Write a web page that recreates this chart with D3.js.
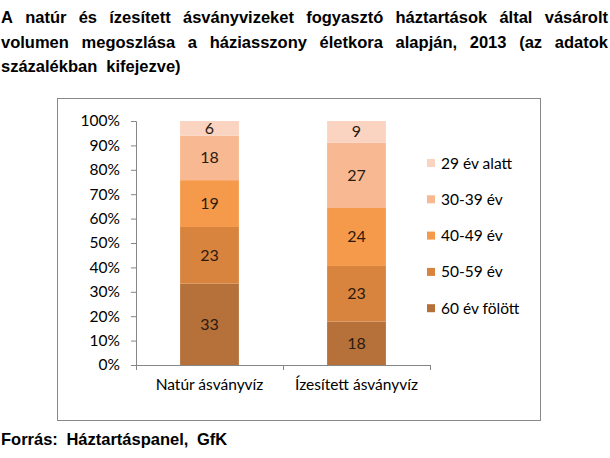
<!DOCTYPE html>
<html>
<head>
<meta charset="utf-8">
<script src="https://cdn.jsdelivr.net/npm/d3@7"></script>
<style>
  body { margin: 0; background: #fff; }
  svg { display: block; }
</style>
</head>
<body>
<div id="chart"></div>
<script>
const width = 610,
    height = 458

// data
const categories = ["Natúr ásványvíz", "Ízesített ásványvíz"]
const ageGroups = ["60 év fölött", "50-59 év", "40-49 év", "30-39 év", "29 év alatt"]
const natur = [33, 23, 19, 18, 6]
const izesitett = [18, 23, 24, 27, 9]
const yTicks = [0, 0.1, 0.2, 0.3, 0.4, 0.5, 0.6, 0.7, 0.8, 0.9, 1]

const titleLines = [
    "A natúr és ízesített ásványvizeket fogyasztó háztartások által vásárolt",
    "volumen megoszlása a háziasszony életkora alapján, 2013 (az adatok",
    "százalékban kifejezve)"
]
const source = "Forrás: Háztartáspanel, GfK"

const colors = ["#b6703a", "#d9843e", "#f59a4a", "#f8b891", "#fad3c1"]

const rows = categories.map((c, i) => {
    const row = { cat: c }
    ageGroups.forEach((g, j) => { row[g] = [natur, izesitett][i][j] })
    return row
})

const svg = d3.select("#chart")
    .append("svg")
        .attr("width", width)
        .attr("height", height)

// title, justified line by line
const titleFont = "bold 16.5px 'Liberation Sans', Arial, sans-serif"
titleLines.forEach((line, i) => {
    const words = line.split(" ")
    const g = svg.append("g")
    const texts = words.map(w => g.append("text")
        .attr("y", 23 + i * 24.5)
        .style("font", titleFont)
        .attr("fill", "#000")
        .text(w))
    const widths = texts.map(t => t.node().getComputedTextLength())
    const total = d3.sum(widths)
    const last = i === titleLines.length - 1
    const gap = last ? 9 : (607 - total) / (words.length - 1)
    let x = 1
    texts.forEach((t, k) => {
        t.attr("x", x)
        x += widths[k] + gap
    })
})

// chart border
svg.append("rect")
    .attr("x", 57.5)
    .attr("y", 98.5)
    .attr("width", 483)
    .attr("height", 322)
    .attr("fill", "none")
    .attr("stroke", "#888")

const plot = { left: 136, right: 430, top: 121, bottom: 365 }

const x = d3.scaleBand()
    .domain(categories)
    .range([plot.left, plot.right])
    .paddingInner(0.6)
    .paddingOuter(0.3)

const y = d3.scaleLinear()
    .domain([0, 1])
    .range([plot.bottom, plot.top])

const stack = d3.stack()
    .keys(ageGroups)
    .offset(d3.stackOffsetExpand)

const series = stack(rows)

const axisFont = "Lato, 'Open Sans', sans-serif"
const axisSize = "15.5px"

// y axis
const yAxis = svg.append("g")
    .attr("transform", `translate(${plot.left},0)`)
    .call(d3.axisLeft(y).tickValues(yTicks).tickFormat(d3.format(".0%")).tickSize(5).tickPadding(11))
yAxis.select(".domain").attr("stroke", "#868686")
yAxis.selectAll(".tick line").attr("stroke", "#868686")
yAxis.selectAll("text")
    .style("font-family", axisFont)
    .style("font-size", axisSize)
    .attr("fill", "#000")

// x axis
const xAxis = svg.append("g")
    .attr("transform", `translate(0,${plot.bottom})`)
    .call(d3.axisBottom(x).tickSize(0).tickPadding(14))
xAxis.select(".domain").attr("stroke", "#868686")
xAxis.selectAll("text")
    .style("font-family", axisFont)
    .style("font-size", axisSize)
    .attr("fill", "#000")

// category separators
const edges = [plot.left, ...categories.map(c => x(c) + x.bandwidth() / 2 + x.step() / 2)]
svg.append("g").selectAll("line")
    .data(edges)
    .enter()
    .append("line")
        .attr("x1", d => d + 0.5)
        .attr("x2", d => d + 0.5)
        .attr("y1", plot.bottom)
        .attr("y2", plot.bottom + 5)
        .attr("stroke", "#868686")

// bars
const layers = svg.append("g").selectAll("g")
    .data(series)
    .enter()
    .append("g")
        .attr("fill", (d, i) => colors[i])

layers.selectAll("rect")
    .data(d => d)
    .enter()
    .append("rect")
        .attr("x", d => x(d.data.cat))
        .attr("y", d => y(d[1]))
        .attr("width", x.bandwidth())
        .attr("height", d => y(d[0]) - y(d[1]))

// labels in bars
series.forEach(s => {
    svg.append("g").selectAll("text")
        .data(s)
        .enter()
        .append("text")
            .attr("x", d => x(d.data.cat) + x.bandwidth() / 2)
            .attr("y", d => (y(d[0]) + y(d[1])) / 2 + 5.5)
            .attr("text-anchor", "middle")
            .style("font-family", axisFont)
            .style("font-size", "16px")
            .attr("fill", "#2b1a0e")
            .text(d => d.data[s.key])
})

// legend (reverse order, top = youngest)
const legend = svg.append("g").selectAll("g")
    .data(ageGroups.slice().reverse())
    .enter()
    .append("g")
        .attr("transform", (d, i) => `translate(427,${163 + i * 36.3})`)

legend.append("rect")
    .attr("x", 0)
    .attr("y", -4)
    .attr("width", 8)
    .attr("height", 8)
    .attr("fill", d => colors[ageGroups.indexOf(d)])

legend.append("text")
    .attr("x", 14)
    .attr("y", 5.5)
    .style("font-family", axisFont)
    .style("font-size", axisSize)
    .attr("fill", "#000")
    .text(d => d)

// source
svg.append("text")
    .attr("x", 1)
    .attr("y", 445)
    .style("font", titleFont)
    .attr("fill", "#000")
    .attr("word-spacing", "4px")
    .text(source)
</script>
</body>
</html>
